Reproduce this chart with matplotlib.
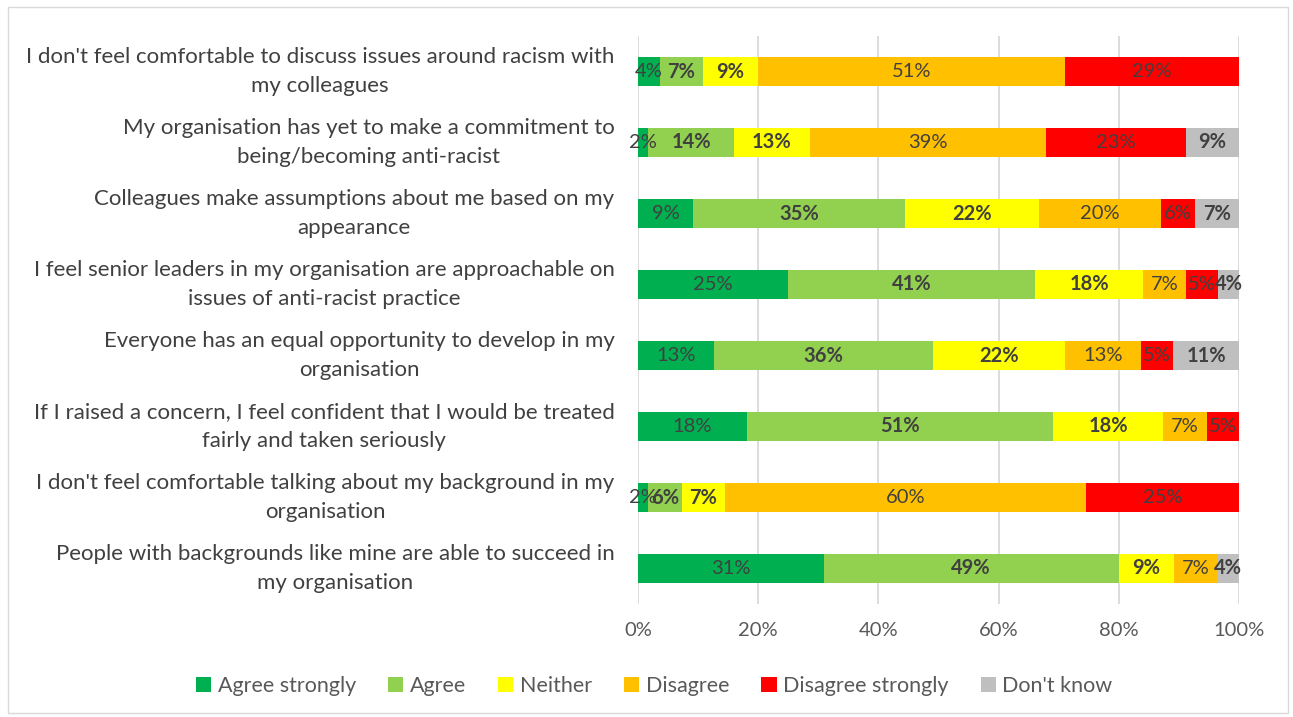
import matplotlib

matplotlib.use("Agg")
import matplotlib.pyplot as plt
import numpy as np
from matplotlib.patches import Patch, Rectangle

plt.rcParams["font.family"] = ["Lato", "DejaVu Sans"]

STATEMENTS = [
    "I don't feel comfortable to discuss issues around racism with\nmy colleagues",
    "My organisation has yet to make a commitment to\nbeing/becoming anti-racist",
    "Colleagues make assumptions about me based on my\nappearance",
    "I feel senior leaders in my organisation are approachable on\nissues of anti-racist practice",
    "Everyone has an equal opportunity to develop in my\norganisation",
    "If I raised a concern, I feel confident that I would be treated\nfairly and taken seriously",
    "I don't feel comfortable talking about my background in my\norganisation",
    "People with backgrounds like mine are able to succeed in\nmy organisation",
]

RESPONSES = ["Agree strongly", "Agree", "Neither", "Disagree", "Disagree strongly", "Don't know"]

# share of respondents (%) per statement, one list per response
agree_strongly = [3.6, 1.7, 9.2, 24.9, 12.7, 18.1, 1.7, 30.9]
agree = [7.2, 14.3, 35.3, 41.2, 36.4, 51.0, 5.6, 49.1]
neither = [9.1, 12.6, 22.2, 17.9, 21.9, 18.3, 7.2, 9.2]
disagree = [51.1, 39.3, 20.3, 7.2, 12.7, 7.2, 60.1, 7.2]
disagree_strongly = [29.0, 23.3, 5.7, 5.3, 5.4, 5.4, 25.4, 0.0]
dont_know = [0.0, 8.8, 7.3, 3.5, 10.9, 0.0, 0.0, 3.6]

COLORS = ["#00B050", "#92D050", "#FFFF00", "#FFC000", "#FF0000", "#BFBFBF"]
BOLD = [False, True, True, False, False, True]
TEXT = "#404040"

series = [agree_strongly, agree, neither, disagree, disagree_strongly, dont_know]

fig = plt.figure(figsize=(12.93, 7.17), dpi=100)
ax = fig.add_axes([638 / 1293, 1 - 604 / 717, 601 / 1293, (604 - 36) / 717])

y = np.arange(len(STATEMENTS))
left = np.zeros(len(STATEMENTS))
for vals, color, bold in zip(series, COLORS, BOLD):
    vals = np.array(vals)
    bars = ax.barh(y, vals, left=left, height=0.4, color=color, zorder=2)
    for bar, v in zip(bars, vals):
        if v <= 0:
            continue
        ax.text(bar.get_x() + bar.get_width() / 2, bar.get_y() + bar.get_height() / 2,
                f"{v:.0f}%", ha="center", va="center", fontsize=14.5, color=TEXT,
                fontweight="bold" if bold else "normal", zorder=3)
    left += vals

ax.set_xlim(0, 100)
ax.set_ylim(len(STATEMENTS) - 0.5, -0.5)
ax.set_xticks(np.arange(0, 101, 20))
ax.set_xticklabels([f"{t}%" for t in range(0, 101, 20)], fontsize=14.5, color="#595959")
ax.set_yticks(y)
ax.set_yticklabels(STATEMENTS, fontsize=16, color="#404040")
for lbl in ax.get_yticklabels():
    lbl.set_multialignment("center")
    lbl.set_linespacing(1.6)
    lbl.set_verticalalignment("center")
ax.tick_params(axis="x", length=0, pad=13)
ax.tick_params(axis="y", length=0, pad=17)
ax.grid(axis="x", color="#D9D9D9", linewidth=1.3, zorder=0)
for s in ax.spines.values():
    s.set_visible(False)

handles = [Patch(facecolor=c, edgecolor="none") for c in COLORS]
fig.legend(handles, RESPONSES, loc="center", bbox_to_anchor=(0.506, 1 - 686 / 717),
           ncol=6, frameon=False, fontsize=15.5, labelcolor="#595959",
           handlelength=0.7, handleheight=0.7, handletextpad=0.3, columnspacing=1.5)

fig.patches.append(Rectangle((8 / 1293, 4 / 717), 1280 / 1293, 706 / 717,
                             transform=fig.transFigure, fill=False,
                             edgecolor="#D9D9D9", linewidth=1))

fig.savefig("out.png", dpi=100)
